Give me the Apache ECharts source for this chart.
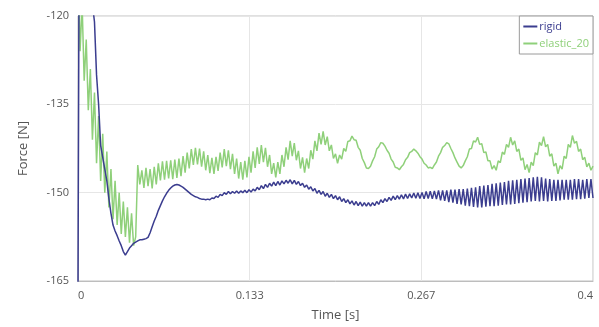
<!DOCTYPE html>
<html>
<head>
<meta charset="utf-8">
<script src="https://cdn.jsdelivr.net/npm/echarts@6/dist/echarts.min.js"></script>
<style>
  html, body { margin: 0; padding: 0; background: #fff; }
  #main { width: 599px; height: 327px; }
</style>
</head>
<body>
<div id="main"></div>
<script>
// sample step of both records [s]
const dt = 0.0016;
const seriesNames = ['rigid', 'elastic_20'];
const xTickLabels = ['0', '0.133', '0.267', '0.4'];

// force values, one per sample step
const rigid = [
  -166, -60, -103, -106, -109, -112, -115, -118, -121, -130,
  -135, -142, -144, -146, -148, -151, -153.5, -155.5, -156.5, -157.3,
  -158.2, -159, -160, -160.6, -160, -159.4, -159, -158.6, -158.4, -158.2,
  -158, -158, -157.9, -157.8, -157.6, -156.8, -155.8, -154.8, -154, -153,
  -152.2, -151.4, -150.7, -150.1, -149.6, -149.2, -148.9, -148.7, -148.6, -148.7,
  -148.9, -149.1, -149.4, -149.7, -150, -150.3, -150.5, -150.7, -150.8, -151,
  -151.1, -151.1, -151.2, -151.1, -151.2, -150.9, -151, -150.6, -150.8, -150.3,
  -150.5, -150, -150.3, -149.8, -150.2, -149.8, -150.1, -149.7, -150.1, -149.7,
  -150, -149.6, -150, -149.5, -149.9, -149.4, -149.7, -149.1, -149.5, -148.8,
  -149.3, -148.6, -149.1, -148.4, -148.9, -148.2, -148.8, -148.1, -148.7, -148.0,
  -148.5, -147.9, -148.4, -147.8, -148.5, -147.9, -148.6, -148.1, -148.8, -148.4,
  -149.1, -148.7, -149.4, -149.0, -149.7, -149.3, -150.1, -149.6, -150.3, -149.8,
  -150.6, -150.1, -150.8, -150.3, -151.0, -150.5, -151.2, -150.7, -151.5, -151.0,
  -151.7, -151.2, -151.9, -151.4, -152.1, -151.5, -152.2, -151.6, -152.3, -151.7,
  -152.3, -151.7, -152.3, -151.7, -152.2, -151.5, -152.0, -151.2, -151.7, -151.0,
  -151.5, -150.8, -151.3, -150.6, -151.2, -150.5, -151.1, -150.35, -151.05, -150.25,
  -151.0, -150.2, -150.9, -150.05, -150.95, -150.0, -151.0, -149.95, -151.05, -149.8,
  -151.0, -149.75, -151.05, -149.7, -151.1, -149.6, -151.3, -149.6, -151.4, -149.6,
  -151.6, -149.5, -151.7, -149.5, -151.9, -149.4, -152.0, -149.4, -152.2, -149.3,
  -152.3, -149.2, -152.4, -149.1, -152.5, -148.9, -152.5, -148.8, -152.4, -148.7,
  -152.3, -148.5, -152.3, -148.4, -152.2, -148.3, -152.1, -148.2, -152.0, -148.0,
  -152.0, -147.9, -151.9, -147.8, -151.8, -147.7, -151.7, -147.6, -151.6, -147.5,
  -151.5, -147.4, -151.4, -147.3, -151.5, -147.4, -151.4, -147.6, -151.5, -147.7,
  -151.4, -147.8, -151.4, -147.8, -151.3, -147.8, -151.2, -147.8, -151.2, -147.8,
  -151.2, -147.7, -151.1, -147.7, -151.1, -147.8, -151.0, -147.7, -150.9, -147.7,
  -150.9
];

const elastic20 = [
  -110, -126, -118, -131, -124, -136, -129, -141, -133, -145,
  -137, -148, -140, -150, -143, -152.5, -146, -154.5, -148, -155.5,
  -150, -157, -151.5, -157.5, -152.5, -158.5, -153.5, -159, -157.5, -145.3,
  -148.6, -146.2, -149.2, -145.8, -148.9, -146.0, -149.3, -145.6, -148.6, -145.0,
  -147.9, -144.7, -147.8, -144.6, -147.6, -144.5, -147.7, -144.4, -147.5, -144.2,
  -147.2, -143.8, -146.6, -143.2, -145.9, -142.6, -145.3, -142.4, -145.2, -142.5,
  -145.6, -143.0, -146.2, -143.6, -146.7, -144.1, -146.8, -143.9, -146.3, -143.2,
  -145.7, -142.6, -145.5, -142.8, -146.0, -143.4, -146.8, -144.2, -147.6, -144.8,
  -147.8, -144.6, -147.4, -143.9, -146.6, -143.0, -145.8, -142.3, -145.1, -141.9,
  -144.8, -142.4, -145.6, -143.6, -146.8, -145.0, -147.4, -144.8, -146.8, -143.6,
  -145.6, -142.3, -144.4, -141.2, -143.8, -141.6, -144.5, -142.9, -145.9, -144.0,
  -146.6, -144.2, -145.9, -142.8, -144.3, -141.2, -142.9, -139.9, -141.8, -139.6,
  -141.9, -140.5, -142.9, -141.9, -144.2, -143.4, -145.0, -143.6, -144.3, -142.5,
  -143.0, -141.3, -141.2, -140.4, -141.0, -141.1, -142.3, -142.8, -144.2, -144.9,
  -145.8, -145.9, -145.5, -144.6, -143.9, -142.6, -142.2, -141.5, -141.6, -142.1,
  -142.8, -143.3, -144.3, -144.8, -145.7, -145.8, -146.1, -145.6, -145.2, -144.4,
  -144.0, -143.2, -143.0, -142.6, -142.9, -143.3, -143.9, -144.3, -145.0, -145.3,
  -145.8, -145.7, -145.9, -145.3, -144.8, -143.8, -143.2, -142.3, -142.0, -141.5,
  -141.7, -142.5, -143.2, -144.1, -144.8, -145.5, -145.8, -145.4, -144.6, -143.9,
  -142.6, -142.5, -141.2, -141.4, -140.6, -141.8, -141.7, -143.2, -143.1, -144.6,
  -144.6, -146.0, -145.4, -146.2, -144.6, -144.9, -143.1, -143.5, -141.8, -142.3,
  -140.6, -141.9, -141.2, -143.0, -142.6, -144.5, -144.1, -146.1, -145.2, -146.6,
  -144.8, -145.4, -143.2, -143.6, -141.4, -142.0, -140.5, -142.2, -141.8, -143.8,
  -143.4, -145.5, -145.0, -146.8, -145.4, -146.0, -143.8, -144.2, -141.8, -142.3,
  -140.3, -141.6, -141.3, -143.0, -142.6, -144.4, -144.0, -145.6, -145.0, -146.2,
  -145.5
];

const colors = ['#3b3d8f', '#8fd07a'];

function toPairs(values) {
  return values.map((v, i) => [i * dt, v]);
}

let myChart = echarts.init(document.getElementById('main'));
myChart.setOption({
    animation: false,
    textStyle: { fontFamily: 'Open Sans' },
    grid: {
        left: 78, right: 6, top: 16, bottom: 42,
        show: true, borderColor: '#c0c0c0', borderWidth: 1
    },
    legend: {
        orient: 'vertical',
        right: 6, top: 16,
        backgroundColor: '#fff',
        borderColor: '#9a9a9a', borderWidth: 1, borderRadius: 0,
        padding: [5, 4, 5, 4],
        itemGap: 6,
        itemWidth: 14, itemHeight: 2,
        icon: 'rect',
        textStyle: { fontSize: 11, padding: [0, 0, 0, -3] },
        data: seriesNames.map((n, i) => ({ name: n, textStyle: { color: colors[i] } }))
    },
    xAxis: {
        type: 'value',
        min: 0, max: 0.4, interval: 0.4 / 3,
        name: 'Time [s]', nameLocation: 'middle', nameGap: 28,
        nameTextStyle: { fontSize: 13, color: '#555' },
        axisLine: { lineStyle: { color: '#bdbdbd' } },
        axisTick: { show: false },
        axisLabel: {
            fontSize: 11, color: '#555', margin: 9,
            alignMinLabel: 'left', alignMaxLabel: 'right',
            formatter: (v) => xTickLabels[Math.round(v / (0.4 / 3))]
        },
        splitLine: { lineStyle: { color: '#e6e6e6' } }
    },
    yAxis: {
        type: 'value',
        min: -165, max: -120, interval: 15,
        name: 'Force [N]', nameLocation: 'middle', nameGap: 48,
        nameTextStyle: { fontSize: 13, color: '#555' },
        axisLine: { show: true, lineStyle: { color: '#bdbdbd' } },
        axisTick: { show: false },
        axisLabel: { fontSize: 11, color: '#555', margin: 9 },
        splitLine: { lineStyle: { color: '#e6e6e6' } }
    },
    series: [
        {
            name: 'rigid', type: 'line', showSymbol: false, symbol: 'none',
            clip: true, z: 3,
            lineStyle: { color: colors[0], width: 1.5 },
            itemStyle: { color: colors[0] },
            data: toPairs(rigid)
        },
        {
            name: 'elastic_20', type: 'line', showSymbol: false, symbol: 'none',
            clip: true, z: 2,
            lineStyle: { color: colors[1], width: 1.5 },
            itemStyle: { color: colors[1] },
            data: toPairs(elastic20)
        }
    ]
});
</script>
</body>
</html>
